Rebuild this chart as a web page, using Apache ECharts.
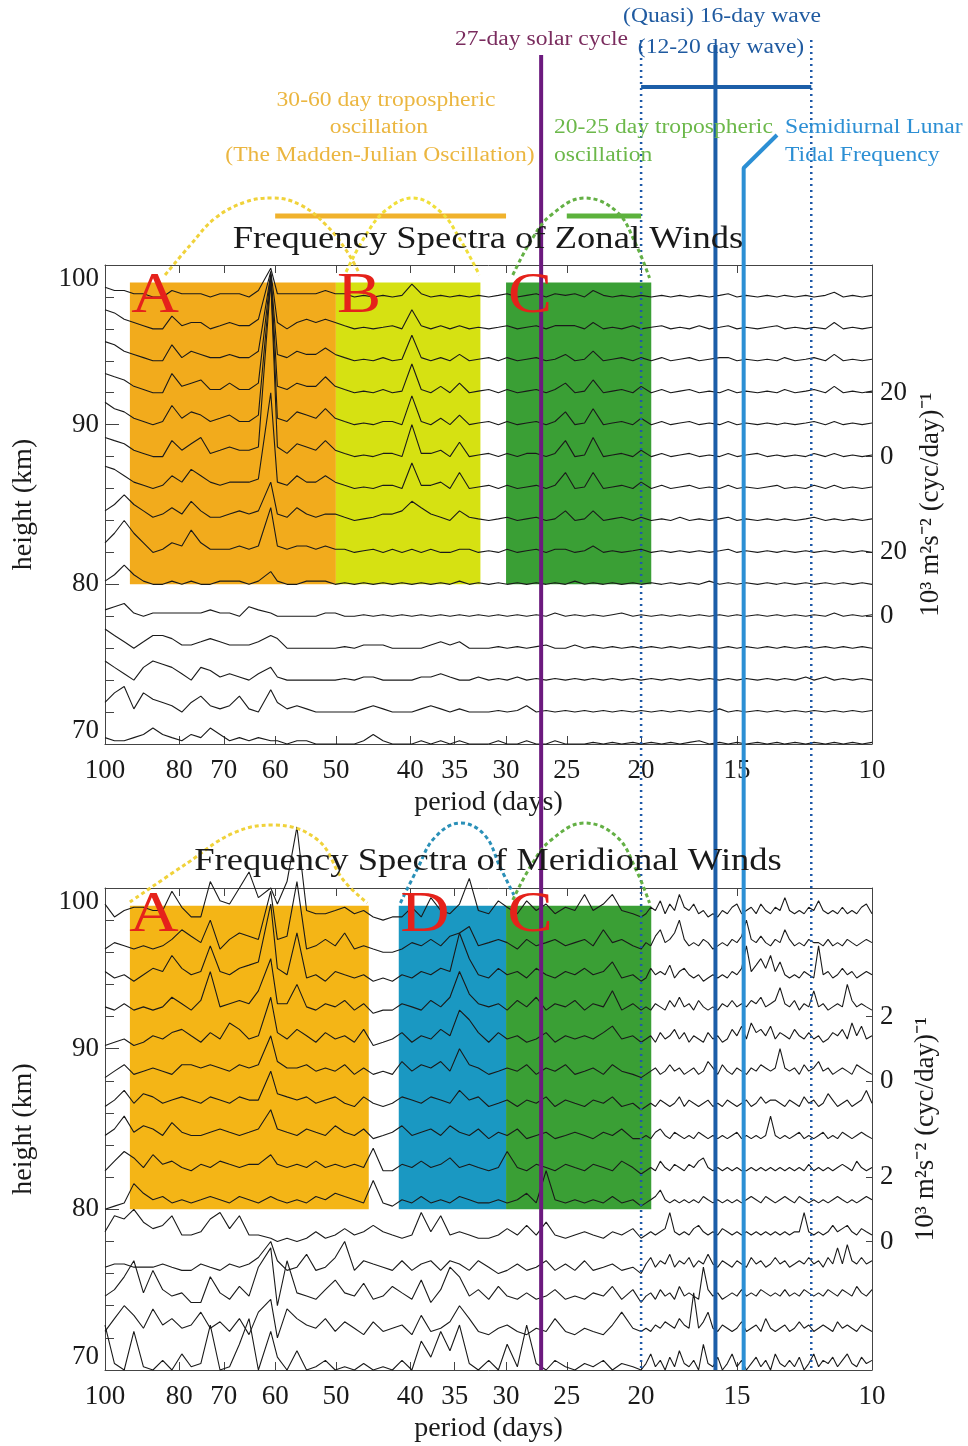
<!DOCTYPE html>
<html>
<head>
<meta charset="utf-8">
<script src="https://cdn.jsdelivr.net/npm/echarts@6/dist/echarts.min.js"></script>
<style>
  html, body { margin: 0; background: #fff; }
  #chart { width: 968px; height: 1446px; }
</style>
</head>
<body>
<div id="chart"></div>
<script>
// periods (days) at which the zonal spectra are sampled
const periods = [100, 97.2, 94.4, 91.7, 89.1, 86.6, 84.1, 81.8, 79.4, 77.2,
  75.0, 72.9, 70.8, 68.8, 66.8, 64.9, 63.1, 60.8, 59.6, 57.9,
  56.2, 54.6, 53.1, 51.6, 50.1, 48.7, 47.3, 46.0, 44.7, 43.4,
  42.2, 41.0, 39.8, 38.7, 37.6, 36.5, 35.5, 34.5, 33.5, 32.6,
  31.6, 30.7, 29.9, 29.0, 28.2, 27.4, 26.6, 25.9, 25.1, 24.4,
  23.7, 23.1, 22.4, 21.8, 21.2, 20.5, 20.0, 19.4, 18.8, 18.3,
  17.8, 17.3, 16.8, 16.3, 15.8, 15.4, 15.0, 14.6, 14.1, 13.7,
  13.3, 13.0, 12.6, 12.2, 11.9, 11.5, 11.2, 10.9, 10.6, 10.3, 10.0];
// the meridional spectra are resolved more finely below 20 days
const meridPeriods = [100, 97.2, 94.4, 91.7, 89.1, 86.6, 84.1, 81.8, 79.4, 77.2,
  75.0, 72.9, 70.8, 68.8, 66.8, 64.9, 63.1, 60.8, 59.6, 57.9,
  56.2, 54.6, 53.1, 51.6, 50.1, 48.7, 47.3, 46.0, 44.7, 43.4,
  42.2, 41.0, 39.8, 38.7, 37.6, 36.5, 35.5, 34.5, 33.5, 32.6,
  31.6, 30.7, 29.9, 29.0, 28.2, 27.4, 26.6, 25.9, 25.1, 24.4,
  23.7, 23.1, 22.4, 21.8, 21.2, 20.5, 20.0,
  19.71, 19.43, 19.16, 18.88, 18.61, 18.35, 18.09, 17.83, 17.57, 17.32,
  17.08, 16.83, 16.59, 16.36, 16.12, 15.89, 15.67, 15.44, 15.22, 15.00,
  14.79, 14.58, 14.37, 14.16, 13.96, 13.76, 13.56, 13.37, 13.18, 12.99,
  12.81, 12.62, 12.44, 12.26, 12.09, 11.91, 11.74, 11.58, 11.41, 11.25,
  11.09, 10.93, 10.77, 10.62, 10.47, 10.32, 10.17, 10.0];
const periodTicks = [10, 15, 20, 25, 30, 35, 40, 50, 60, 70, 80, 100];
const heights = [98, 96, 94, 92, 90, 88, 86, 84, 82, 80, 78, 76, 74, 72, 70];

// zonal spectra, 10^3 m^2 s^-2 (cyc/day)^-1 (20 units = 4 km of plot height)
const z98 = [3,2,2,1,1,0,0,2,1,1, 1,0,1,1,1,0,2,9,1,1, 1,1,1,2,1,1,0,0.5,0,0.5, 0,0.5,4,1,0,0.5,0,0.5,0,0.5, 0,0.5,1,0,0.5,1,0,1,0.5,1, 0,2,0.5,0,0.5,0,0.5,0,0.5,0, 0.5,0,0.5,0,0.5,1,0,0.5,0,0.5, 0,0.5,0,0.5,0,0.5,1.5,0,0.5,0, 0.5];
const z96 = [6,5,3,2,1,0,0,4,1,2, 2,0,1,2,1,1,3,18,2,0, 2,3,2,3,2,1,0,0.5,0,0.5, 1,0,6,1,0,1,0,1,0,0.5, 0,0.5,1,0,0.5,1,0,1,1,1, 0,2,0,0.5,0,1,0,0.5,1,0, 0.5,0,1,0,0.5,1,0,0.5,0,0.5, 1,0,0.5,0,0.5,0,2,0,0.5,0, 0.5];
const z94 = [6,5,3,2,1,0,0,5,1,3, 2,1,1,2,1,1,3,27,2,1, 3,2,2,4,2,1,0,0.5,0,1, 0,0.5,8,1,0,1,0,2,0,0.5, 1,0,1,0,0.5,1,0,0.5,2,0, 0.5,3,0,0.5,1,0,1,0,1,0, 0.5,1,0,0.5,1,1,0,0.5,0,0.5, 0,1,0,0.5,1,0,2,0,0.5,0, 0.5];
const z92 = [6,5,4,2,1,0,0,6,2,3, 4,1,1,3,1,1,3,37,2,1, 3,2,2,5,2,1,0,0.5,0,1, 0,0.5,9,1,0,2,0,3,0,0.5, 1,0,1,0,0.5,1,0,1,3,0, 0.5,4,0,0.5,1,0,2,0,1,0, 0.5,1,0,0.5,0,1,0,0.5,0,0.5, 0,1,0,0.5,1,0,2,0,0.5,0, 0.5];
const z90 = [7,5,4,2,1,0,1,6,2,4, 3,1,2,3,1,1,3,46,2,1, 4,3,2,5,2,1,0,0.5,0,1, 1,0,9,1,0,2,0,3,0,0.5, 1,0,1,0,0.5,1,0,1,4,0, 0.5,5,0,0.5,1,0,2,0,1,0, 0.5,1,0,0.5,0,1,0,0.5,0,0.5, 0,0.5,0,0.5,1,0,1,0,0.5,0, 0.5];
const z88 = [6,5,4,2,1,0,0,5,2,4, 6,1,2,3,2,2,3,55,3,1, 4,3,2,5,2,1,0,0.5,0,1, 1,0,10,1,1,2,0,4.5,0,0.5, 1,0,1,0,1,1,0,1,5,0, 0.5,6,0,0.5,1,0,2,0,1,0, 0.5,1,0,0.5,0,1,0,0.5,1,0, 0.5,0,0.5,0,1,0,1,0,0.5,0, 0.5];
const z86 = [7,6,4,2,1,0,1,4,2,6, 4,2,1,2,2,2,3,30,2,1, 4,2,2,4,2,1,0,0.5,0,1, 1,0,8,1,1,2,0,5,0,0.5, 1,0,1,0,0.5,1,0,1,5,0, 0.5,5,0,0.5,1,0,2,0,1,0, 0.5,1,0,0.5,0,1,0,0.5,0,0.5, 1,0,0.5,0,1,0,1,0,0.5,0, 0.5];
const z84 = [3,5,8,5,3,1,2,4,2,6, 3,1,1,2,3,2,3,12,2,1, 4,2,1,2,2,1,0,0.5,1,2, 2,3,6,4,2,1,0,3,1,0.5, 0,0.5,1,0,0.5,1,0,0.5,3,0, 0.5,3,0,0.5,1,0,1,0,0.5,0, 1,0,0.5,0,0.5,1,0,0.5,0,0.5, 0,0.5,0,0.5,1,0,0.5,0,0.5,0, 0.5];
const z82 = [3,6,10,6,3,0,1,3,2,7, 3,1,1,1,2,1,2,14,2,1, 2,2,1,2,1,1,0,0.5,1,0, 1,0,1,0,1,0,0,1,1,0, 0.5,0,1,0,0.5,1,0,1,1,0, 0.5,2,0,0.5,0,0.5,1,0,0.5,0, 0.5,0,0.5,0,0.5,1,0,0.5,0,0.5, 0,0.5,0,0.5,0,0.5,0,0.5,0,0.5, 0];
const z80 = [1,3,6,3,1,0,0,1,0,1, 0,0,1,1,1,0,1,4,1,0, 0,1,1,1,0,0.5,0,0.5,0,0.5, 0,0.5,0,0.5,0,0.5,0,1,0,0.5, 0,0.5,0,0.5,0,0.5,0,0.5,0,1, 0,0.5,0,0.5,0,0.5,0,0.5,0,0.5, 0,0.5,0,1,0,0.5,0,0.5,0,0.5, 0,0.5,0,0.5,0,0.5,0,0.5,0,0.5, 0];
const z78 = [2,3,4,1,0,1,1,1,1,1, 1,2,1,1,0,3,2,1,0,0, 0,0,0,1,1,0,0,0.5,0,0.5, 0,0.5,0,0.5,0,0.5,0,0.5,0,0.5, 0,0.5,0,0.5,0,0.5,0,1,0,0.5, 0,0.5,0,0.5,1,0,0.5,0,0.5,0, 0.5,0,0.5,0,0.5,0,0.5,0,0.5,0, 0.5,0,0.5,0,0.5,0,1,0,0.5,0, 0.5];
const z76 = [6,4,2,0,2,4,4,3,1,1, 2,3,2,1,1,1,2,4,3,0, 0,0,0,0,0,0.5,0,1,1,1, 0,0,0,0,1,2,1,2,0,0, 0,0.5,0,0.5,0,0.5,1,0,0,1, 0,0.5,0,0.5,0,0.5,0,0.5,0,0.5, 0,0.5,0,0.5,0,0.5,0,0.5,0,0.5, 0,0.5,0,0.5,0,0.5,0,0.5,0,0.5, 0];
const z74 = [6,4,2,0,4,6,5,4,2,0, 4,3,1,2,1,0,2,4,1,0, 0,0,0,0,0,0.5,0,1,1,0, 0,0,0,1,1,2,1,0,0,1, 0,0.5,0,1,0,0.5,0,0.5,0,0.5, 0,0.5,0,0.5,0,0.5,0,0.5,0,0.5, 0,0.5,0,0.5,0,0.5,0,0.5,0,0.5, 0,0.5,0,1,0,1,0,0.5,0,0.5, 0];
const z72 = [3,6,8,1,6,4,3,2,0,3, 5,2,1,2,5,1,0,7,3,1, 2,1,0,0,0,0,0,1,2,1, 0,0,0,1,2,1,0,1,0,0, 0,0.5,0,0.5,2,0,0.5,0,0.5,0, 0.5,0,0.5,0,0.5,0,0.5,0,0.5,0, 0.5,0,0.5,0,1,0,0.5,0,0.5,0, 0.5,0,0.5,0,0.5,0,0.5,0,0.5,0, 0.5];
const z70 = [2,1,1,2,3,5,3,2,1,3, 2,5,3,1,2,1,2,1,1,0, 1,1,0,0,0,0,0,1,3,1, 0,0,0,1,0,1,0,1,0,0, 0,1,0,0,1,0,0,1,0,0, 0,0.5,0,0.5,0,0.5,0,0.5,0,0.5, 0,0.5,1,0,0.5,0,0.5,0,0.5,0, 0.5,0,0.5,0,0.5,0,0.5,0,0.5,0, 0.5];

// meridional spectra, 10^2 m^2 s^-2 (cyc/day)^-1 (2 x 10^3 units = 4 km of plot height)
const m98 = [5,1,3,4,4,3,3,9,4,1, 1,12,6,5,10,15,7,10,5,12, 29,3,2,2,3,4,2,3,1,0, 1,1,4,1,7,3,2,5,13,3, 2,6,4,2,6,3,5,2,4,3, 8,3,5,8,3,2,1,
  2,4,3,6,2,5,3,8,4,3, 5,2,3,1,2,1,3,2,4,5, 2,3,4,2,5,3,2,4,3,7, 3,2,3,2,4,3,6,3,2,3, 2,4,2,3,2,4,5,2];
const m96 = [1,3,2,1,2,1,2,4,7,5, 3,10,1,4,6,5,4,19,4,5, 22,1,2,4,2,6,1,2,1,0, 0,1,3,2,4,2,5,6,8,2, 3,4,3,1,4,2,3,4,2,3, 4,2,7,3,4,2,1,
  3,2,5,7,3,4,6,10,4,2, 3,2,4,3,1,2,3,2,4,3, 5,10,4,3,5,3,2,4,3,7, 4,2,3,2,4,3,3,2,4,2, 3,2,4,3,2,3,4,3];
const m94 = [4,2,3,1,3,5,4,9,5,3, 4,12,4,3,5,6,7,25,5,3, 16,2,3,1,4,3,2,3,1,2, 1,3,2,4,3,5,4,16,8,3, 2,5,3,4,2,5,3,2,4,3, 5,3,4,7,2,3,1,
  2,5,3,4,3,6,2,4,5,3, 2,3,1,2,3,2,3,2,4,3, 5,12,4,6,8,5,9,4,7,3, 2,3,2,4,3,2,12,3,4,2, 3,5,3,4,2,3,4,3];
const m92 = [3,2,4,2,3,2,3,6,4,2, 5,14,3,4,5,4,8,18,4,4, 10,3,2,4,3,5,2,4,1,2, 2,4,3,2,5,3,6,14,7,4, 3,4,2,5,3,6,2,4,3,5, 2,4,3,8,2,4,2,
  3,2,4,3,2,5,3,6,3,4, 2,5,3,2,3,2,4,3,5,3, 4,3,5,4,6,3,4,5,9,4, 3,5,2,4,3,8,3,4,2,3, 4,3,10,5,3,4,3,2];
const m90 = [1,2,3,1,2,4,3,5,6,4, 2,5,3,8,6,3,4,16,5,3, 6,4,2,5,3,4,2,6,1,2, 3,5,2,4,3,6,4,12,9,5, 2,5,3,4,2,3,5,2,4,3, 4,3,5,7,3,4,2,
  3,4,2,5,3,4,6,3,5,2, 4,3,2,5,3,4,2,3,6,4, 7,3,8,5,6,4,7,3,5,4, 3,6,4,3,5,3,4,2,3,5, 4,6,3,8,4,7,3,4];
const m88 = [1,3,5,2,3,4,3,2,5,5, 4,5,4,3,5,4,5,14,6,4, 4,5,3,4,3,5,2,4,2,3, 2,6,3,5,4,6,3,10,5,4, 2,3,4,3,5,2,4,3,5,2, 3,4,2,5,3,2,1,
  2,3,4,2,3,5,3,4,2,3, 4,2,3,6,4,2,5,3,2,4, 3,2,4,3,5,4,3,4,10,4, 3,4,2,5,3,4,6,3,4,2, 3,4,3,2,5,4,3,2];
const m86 = [2,4,7,3,6,5,3,4,5,4, 3,5,4,3,5,4,4,13,6,5, 4,5,3,4,5,3,2,5,3,2, 3,5,4,3,5,4,3,7,4,5, 2,3,4,2,4,3,5,2,4,3, 2,4,3,5,2,3,1,
  2,3,2,4,3,2,3,5,2,4, 3,2,3,4,2,3,2,4,3,2, 3,4,2,3,5,3,4,4,3,2, 4,3,2,5,3,4,2,3,6,4, 2,3,4,2,3,4,7,3];
const m84 = [3,5,9,4,6,5,3,7,4,3, 3,4,5,4,3,4,5,11,5,4, 3,5,4,3,6,4,3,5,2,3, 4,6,3,4,5,3,6,4,3,5, 2,4,3,5,2,3,4,2,3,4, 3,2,4,3,5,2,2,
  3,2,4,5,3,2,4,3,2,3, 2,4,3,2,3,2,3,2,3,4, 2,3,2,3,2,3,9,3,2,3, 2,3,4,2,3,2,3,4,2,3, 2,4,3,2,3,4,3,2];
const m82 = [2,5,8,6,3,7,4,5,3,2, 4,3,5,4,3,4,4,7,4,3, 4,3,5,3,4,3,4,3,9,2, 2,4,3,5,3,4,6,3,4,3, 2,3,8,3,2,4,3,2,4,3, 2,4,3,2,5,3,1,
  2,3,2,5,3,2,4,3,2,4, 3,5,6,3,2,3,2,3,2,3, 2,2,3,2,3,2,3,2,3,2, 3,2,3,2,4,2,3,2,3,2, 3,4,3,2,5,3,2,3];
const m80 = [0,1,2,8,5,3,4,2,3,2, 3,4,3,2,4,3,2,4,3,2, 3,2,4,3,5,4,3,2,9,2, 1,3,2,4,2,3,2,4,3,2, 2,3,2,3,5,2,12,3,2,3, 2,3,2,4,2,3,1,
  2,3,4,6,3,2,3,2,3,2, 3,2,4,3,2,3,2,3,2,3, 2,3,4,3,2,4,3,2,3,4, 3,2,4,3,2,3,2,3,2,3, 4,3,2,3,2,3,4,3];
const m78 = [3,8,7,10,6,4,5,8,2,2, 3,7,9,4,8,2,2,1,0,1, 0,1,3,1,2,4,2,3,5,3, 2,1,2,9,3,8,2,3,2,1, 1,2,4,2,5,2,6,2,1,2, 3,2,1,3,2,4,1,
  2,3,2,3,4,9,3,2,3,2, 4,5,3,2,3,2,4,3,2,3, 2,3,2,3,2,3,2,3,2,3, 2,3,3,9,3,2,3,2,3,5, 3,4,5,3,2,4,3,2];
const m76 = [2,3,3,2,2,2,3,2,1,1, 3,2,1,3,2,3,5,10,4,1, 2,6,1,2,5,10,1,4,3,2, 1,4,1,3,4,1,4,3,1,4, 2,0,1,3,1,2,4,1,3,1, 4,1,2,3,1,2,0,
  3,5,2,4,3,6,2,4,3,5, 2,4,3,6,3,2,4,3,2,4, 3,2,5,3,4,2,3,5,3,4, 2,3,4,3,5,3,4,2,5,3, 8,3,9,4,3,5,3,4];
const m74 = [3,5,9,14,4,11,5,3,4,1, 1,9,4,2,6,3,12,18,0,14, 4,3,2,5,8,4,3,7,2,3, 6,4,2,8,1,5,12,9,3,5, 2,6,3,2,4,2,3,5,2,3, 2,4,3,6,2,5,1,
  3,4,2,5,3,4,2,6,3,4, 3,2,12,5,3,4,2,3,4,3, 5,3,4,3,5,4,3,4,3,5, 3,4,3,5,4,3,4,3,5,4, 3,5,4,3,6,4,3,5];
const m72 = [2,6,10,7,3,9,4,6,3,4, 8,3,5,2,6,1,8,12,0,9, 6,4,3,6,2,5,3,1,5,2, 3,4,1,7,2,3,5,10,6,2, 1,3,4,2,1,3,2,6,2,1, 3,2,1,4,8,3,2,
  3,2,4,3,5,4,3,6,4,3, 14,3,5,8,3,2,4,3,2,3, 5,2,3,4,2,6,3,2,3,4, 2,3,5,3,4,2,3,4,3,2, 5,3,4,3,2,4,3,2];
const m70 = [14,2,0,12,1,0,3,0,5,1, 2,14,0,1,8,16,0,12,4,0, 6,0,1,3,0,1,0,2,0,1, 0,3,0,9,4,12,6,14,2,0, 3,0,8,1,14,2,0,3,1,0, 2,1,3,0,2,1,0,
  2,5,1,3,0,4,1,6,2,1, 3,0,8,2,1,4,0,2,5,1, 3,0,2,4,1,3,0,5,2,1, 3,1,4,0,2,5,1,3,2,4, 1,3,5,2,1,4,2,3];

const zonalRows = [z98, z96, z94, z92, z90, z88, z86, z84, z82, z80, z78, z76, z74, z72, z70];
const meridRows = [m98, m96, m94, m92, m90, m88, m86, m84, m82, m80, m78, m76, m74, m72, m70];
const KM_PER_UNIT = 0.2;

const FONT = 'Liberation Serif';
const INK = '#1a1a1a';
const STRETCH = 1.18; // the printed lettering is wider than plain Times

const chart = echarts.init(document.getElementById('chart'));

function spectra(rows, xs, xi, yi) {
  return rows.map((vals, r) => ({
    type: 'line', xAxisIndex: xi, yAxisIndex: yi, symbol: 'none', clip: false,
    silent: true, z: 3,
    lineStyle: { color: INK, width: 1.1 },
    data: xs.map((p, i) => [p, heights[r] + vals[i] * KM_PER_UNIT])
  }));
}

function bands(xi, yi, areas) {
  return {
    type: 'line', xAxisIndex: xi, yAxisIndex: yi, symbol: 'none', silent: true, z: 1,
    lineStyle: { opacity: 0 }, data: [[50, 70]],
    markArea: {
      silent: true,
      data: areas.map(a => [
        { xAxis: a[0], yAxis: a[2], itemStyle: { color: a[4], opacity: 1 } },
        { xAxis: a[1], yAxis: a[3] }
      ])
    }
  };
}

function periodAxis(grid, pos, name) {
  return {
    gridIndex: grid, type: 'log', logBase: 10, min: 10, max: 100, inverse: true,
    position: pos,
    name: name, nameLocation: 'middle', nameGap: 45,
    nameTextStyle: { fontFamily: FONT, fontSize: 28, color: INK },
    axisLine: { show: true, lineStyle: { color: '#444', width: 1 } },
    axisTick: { show: true, inside: true, length: 8, customValues: periodTicks, lineStyle: { color: '#444' } },
    minorTick: { show: false },
    axisLabel: { show: pos === 'bottom', customValues: periodTicks, fontFamily: FONT, fontSize: 27, color: INK, margin: 13 },
    splitLine: { show: false }
  };
}

function heightAxis(grid) {
  return {
    gridIndex: grid, type: 'value', min: 70, max: 100, interval: 10, position: 'left',
    name: 'height (km)', nameLocation: 'middle', nameGap: 67, nameRotate: 90,
    nameTextStyle: { fontFamily: FONT, fontSize: 28, color: INK },
    axisLine: { show: true, lineStyle: { color: '#444', width: 1 } },
    axisTick: { show: true, inside: true, length: 14, lineStyle: { color: '#444' } },
    minorTick: { show: true, splitNumber: 5, length: 9, lineStyle: { color: '#444' } },
    axisLabel: {
      fontFamily: FONT, fontSize: 27, color: INK, margin: 6,
      verticalAlignMinLabel: 'bottom', verticalAlignMaxLabel: 'top'
    },
    splitLine: { show: false }
  };
}

function powerAxis(grid, labels) {
  return {
    gridIndex: grid, type: 'value', min: 70, max: 100, position: 'right',
    name: '10³ m²s⁻² (cyc/day)⁻¹', nameLocation: 'middle', nameGap: 40, nameRotate: 90,
    nameTextStyle: { fontFamily: FONT, fontSize: 27, color: INK },
    axisLine: { show: true, lineStyle: { color: '#444', width: 1 } },
    axisTick: { show: true, inside: true, length: 6, customValues: [78, 82, 88, 92], lineStyle: { color: '#444' } },
    axisLabel: {
      customValues: [78, 82, 88, 92], fontFamily: FONT, fontSize: 27, color: INK, margin: 8,
      formatter: v => labels[v]
    },
    splitLine: { show: false }
  };
}

// overlay guide lines (x through the period scale, y in page pixels)
function guide(data, color, width, type, smooth) {
  return {
    type: 'line', xAxisIndex: 4, yAxisIndex: 4, symbol: 'none', silent: true, z: 6,
    clip: false, smooth: smooth || false,
    lineStyle: { color: color, width: width, type: type || 'solid', cap: 'butt' },
    data: data
  };
}

const yellowArcZ1 = [[83.5, 275], [77.4, 245], [71.8, 218], [65.6, 202], [60.5, 198], [55.6, 205], [51.5, 225], [48.5, 250], [46.7, 272]];
const yellowArcZ2 = [[48.5, 272], [45.7, 235], [43.0, 210], [39.7, 198], [36.5, 212], [34.4, 240], [32.5, 275]];
const greenArcZ = [[29.4, 275], [27.8, 240], [26.2, 215], [23.7, 198], [21.5, 212], [20.3, 245], [19.5, 278]];
const yellowArcM = [[92.8, 902], [78.1, 863], [68.0, 833], [60.3, 825], [52.8, 840], [48.9, 880], [45.5, 903]];
const blueArcM = [[41.2, 903], [39.1, 868], [37.2, 838], [34.4, 823], [32.0, 835], [30.5, 868], [29.3, 895]];
const greenArcM = [[29.4, 900], [27.8, 865], [26.2, 840], [23.7, 823], [21.5, 837], [20.3, 870], [19.5, 903]];

const series = [
  bands(0, 0, [
    [92.8, 50, 98.9, 80, '#f2ab1c'],
    [50, 32.4, 98.9, 80, '#d6e112'],
    [30, 19.4, 98.9, 80, '#3a9f35']
  ]),
  bands(2, 2, [
    [92.8, 45.3, 98.9, 80, '#f4b516'],
    [41.4, 30, 98.9, 80, '#1a98c2'],
    [30, 19.4, 98.9, 80, '#3a9f35']
  ]),
  ...spectra(zonalRows, periods, 0, 0),
  ...spectra(meridRows, meridPeriods, 2, 2),
  guide([[27, 55], [27, 1370]], '#6c1a7e', 4),
  guide([[16, 45], [16, 1370]], '#1c5ea8', 4),
  guide([[14.7, 1370], [14.7, 168], [13.3, 135]], '#2c8fd4', 4),
  guide([[20, 40], [20, 1370]], '#1f5aa8', 2.5, [2, 4]),
  guide([[12, 40], [12, 1370]], '#1f5aa8', 2.5, [2, 4]),
  guide([[20, 87], [12, 87]], '#1c5ea8', 4),
  guide([[60, 216], [30, 216]], '#f0b22c', 5),
  guide([[25, 216], [20, 216]], '#5cb23c', 5),
  guide(yellowArcZ1, '#f0d23a', 3, [4, 3], 0.4),
  guide(yellowArcZ2, '#f0df3a', 3, [4, 3], 0.4),
  guide(greenArcZ, '#64b045', 3, [4, 3], 0.4),
  guide(yellowArcM, '#f0d23a', 3, [4, 3], 0.4),
  guide(blueArcM, '#2a90b8', 3, [4, 3], 0.4),
  guide(greenArcM, '#64b045', 3, [4, 3], 0.4)
];

function txt(x, y, s, color, size, align) {
  return {
    type: 'text', x: x, y: y, z: 10, silent: true, scaleX: STRETCH,
    style: { text: s, fill: color, fontFamily: FONT, fontSize: size, align: align || 'center', verticalAlign: 'middle' }
  };
}

const RED = '#e5221b';
const graphic = [
  txt(488, 240, 'Frequency Spectra of Zonal Winds', INK, 31),
  txt(488, 862, 'Frequency Spectra of Meridional Winds', INK, 31),
  txt(628, 40, '27-day solar cycle', '#7a2c5e', 20, 'right'),
  txt(722, 17, '(Quasi) 16-day wave', '#1f5aa0', 20),
  txt(721, 48, '(12-20 day wave)', '#1f5aa0', 20),
  txt(386, 101, '30-60 day tropospheric', '#ebb640', 20),
  txt(379, 128, 'oscillation', '#ebb640', 20),
  txt(380, 156, '(The Madden-Julian Oscillation)', '#ebb640', 20),
  txt(554, 128, '20-25 day tropospheric', '#6cb84a', 20, 'left'),
  txt(554, 156, 'oscillation', '#6cb84a', 20, 'left'),
  txt(785, 128, 'Semidiurnal Lunar', '#2c8fd4', 20, 'left'),
  txt(785, 156, 'Tidal Frequency', '#2c8fd4', 20, 'left'),
  txt(155, 297, 'A', RED, 56),
  txt(359, 297, 'B', RED, 56),
  txt(530, 297, 'C', RED, 56),
  txt(154, 916, 'A', RED, 58),
  txt(425, 916, 'D', RED, 58),
  txt(530, 916, 'C', RED, 58)
];

chart.setOption({
  animation: false,
  backgroundColor: '#fff',
  grid: [
    { left: 105, top: 265, width: 767, height: 479 },
    { left: 105, top: 888, width: 767, height: 482 },
    { left: 105, top: 0, width: 767, height: 1446 }
  ],
  xAxis: [
    periodAxis(0, 'bottom', 'period (days)'),
    periodAxis(0, 'top', ''),
    periodAxis(1, 'bottom', 'period (days)'),
    periodAxis(1, 'top', ''),
    { gridIndex: 2, type: 'log', min: 10, max: 100, inverse: true, show: false }
  ],
  yAxis: [
    heightAxis(0),
    powerAxis(0, { 78: '0', 82: '20', 88: '0', 92: '20' }),
    heightAxis(1),
    powerAxis(1, { 78: '0', 82: '2', 88: '0', 92: '2' }),
    { gridIndex: 2, type: 'value', min: 0, max: 1446, inverse: true, show: false }
  ],
  graphic: graphic,
  series: series
});
</script>
</body>
</html>
